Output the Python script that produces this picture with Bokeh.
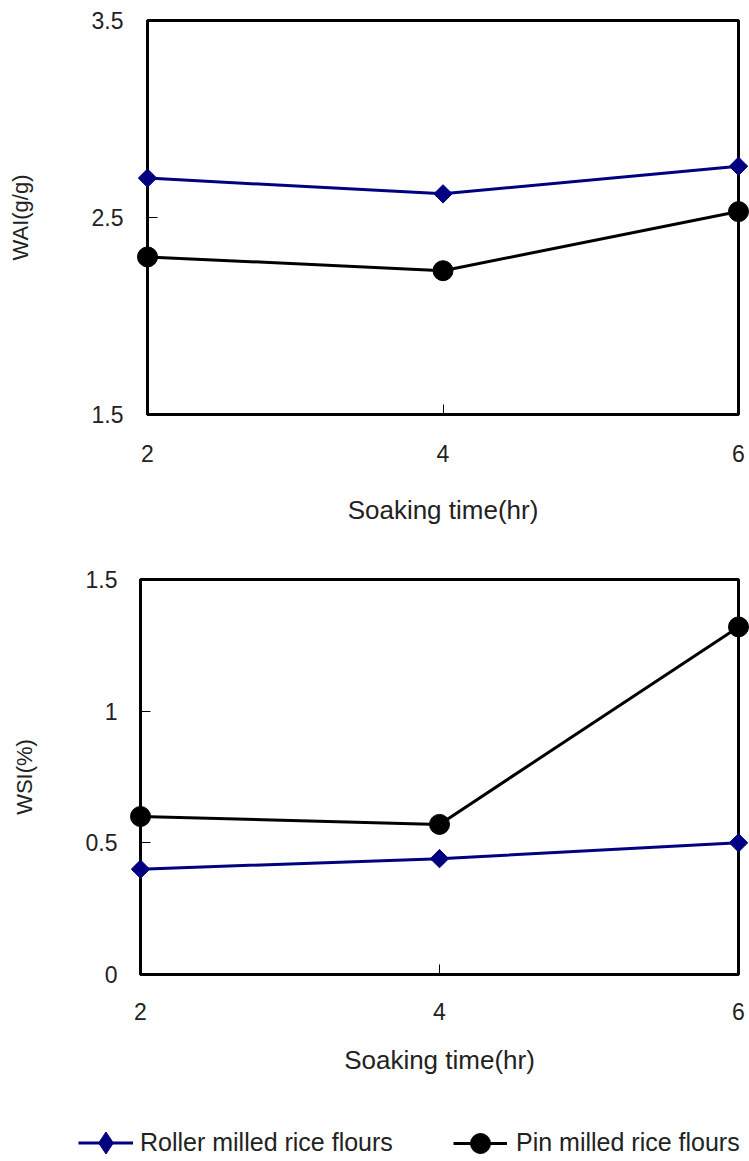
from bokeh.plotting import figure
from bokeh.models import Range1d, FixedTicker, Legend, LegendItem
from bokeh.embed import file_html
from bokeh.resources import INLINE

# ---- data ----
soak_time = [2, 4, 6]
wai_roller = [2.70, 2.62, 2.76]
wai_pin = [2.30, 2.23, 2.53]
wsi_roller = [0.40, 0.44, 0.50]
wsi_pin = [0.60, 0.57, 1.32]

x_ticks = [2, 4, 6]
x_tick_labels = ["2", "4", "6"]
wai_ticks = [1.5, 2.5, 3.5]
wai_tick_labels = ["1.5", "2.5", "3.5"]
wsi_ticks = [0, 0.5, 1, 1.5]
wsi_tick_labels = ["0", "0.5", "1", "1.5"]

series_labels = ["Roller milled rice flours", "Pin milled rice flours"]
x_label = "Soaking time(hr)"
y_labels = ["WAI(g/g)", "WSI(%)"]

FONT = "Liberation Sans"
NAVY = "#000080"
TXT = "#222222"


def make_fig(height, left, top, bottom, y_lo, y_hi, yticks, ytlabels, ylabel,
             ylabel_standoff, ytick_standoff, xtick_standoff, xlabel_standoff):
    p = figure(width=749, height=height, x_range=Range1d(2, 6),
               y_range=Range1d(y_lo, y_hi), output_backend="svg",
               toolbar_location=None, min_border_left=left, min_border_right=11,
               min_border_top=top, min_border_bottom=bottom)
    p.grid.visible = False
    p.outline_line_color = "black"
    p.outline_line_width = 3
    p.outline_line_alpha = 1
    p.xaxis.ticker = FixedTicker(ticks=x_ticks)
    p.xaxis.major_label_overrides = dict(zip(x_ticks, x_tick_labels))
    p.yaxis.ticker = FixedTicker(ticks=yticks)
    p.yaxis.major_label_overrides = dict(zip(yticks, ytlabels))
    for ax in (p.xaxis, p.yaxis):
        ax.axis_line_width = 3
        ax.axis_line_color = "black"
        ax.major_tick_in = 10
        ax.major_tick_out = 0
        ax.major_tick_line_color = "black"
        ax.major_tick_line_width = 1
        ax.minor_tick_line_color = None
        ax.major_label_text_font = FONT
        ax.major_label_text_font_size = "23px"
        ax.major_label_text_color = TXT
        ax.axis_label_text_font = FONT
        ax.axis_label_text_font_style = "normal"
        ax.axis_label_text_color = TXT
    p.xaxis.axis_label = x_label
    p.xaxis.axis_label_text_font_size = "26px"
    p.xaxis.major_label_standoff = xtick_standoff
    p.xaxis.axis_label_standoff = xlabel_standoff
    p.yaxis.axis_label = ylabel
    p.yaxis.axis_label_text_font_size = "22px"
    p.yaxis.major_label_standoff = ytick_standoff
    p.yaxis.axis_label_standoff = ylabel_standoff
    return p


def add_series(p, roller, pin, roller_marker="square", roller_angle=0.785398, roller_size=13):
    lr = p.line(soak_time, roller, line_color=NAVY, line_width=3, level="overlay")
    sr = p.scatter(soak_time, roller, marker=roller_marker, angle=roller_angle,
                   size=roller_size, fill_color=NAVY, line_color=NAVY, level="overlay")
    lp = p.line(soak_time, pin, line_color="black", line_width=3, level="overlay")
    sp = p.scatter(soak_time, pin, marker="circle", size=20,
                   fill_color="black", line_color="black", level="overlay")
    return (lr, sr), (lp, sp)


p1 = make_fig(540, 147, 20, 126, 1.5, 3.5, wai_ticks, wai_tick_labels, y_labels[0],
              56, 24, 30, 30)
add_series(p1, wai_roller, wai_pin)

p2 = make_fig(555, 140, 39, 121, 0, 1.5, wsi_ticks, wsi_tick_labels, y_labels[1],
              46, 23, 28, 22)
add_series(p2, wsi_roller, wsi_pin)

# legend strip: same series, ranges chosen so only the legend is shown
p3 = figure(width=749, height=66, x_range=Range1d(-10, -9), y_range=Range1d(-10, -9),
            output_backend="svg", toolbar_location=None, min_border_left=0,
            min_border_right=0, min_border_top=0, min_border_bottom=0)
p3.axis.visible = False
p3.grid.visible = False
p3.outline_line_color = None
(rr, rs), (pr, ps) = add_series(p3, wsi_roller, wsi_pin, roller_marker="diamond",
                                roller_angle=0, roller_size=22)

leg_common = dict(padding=0, margin=0, border_line_color=None, background_fill_alpha=0,
                  label_text_font=FONT, label_text_font_size="25px",
                  label_text_color=TXT)
leg1 = Legend(items=[LegendItem(label=series_labels[0], renderers=[rr, rs])],
              location=(78, -9), glyph_width=55, glyph_height=55, label_standoff=7,
              **leg_common)
leg2 = Legend(items=[LegendItem(label=series_labels[1], renderers=[pr, ps])],
              location=(453, -6.5), glyph_width=54, glyph_height=50, label_standoff=9,
              **leg_common)
p3.add_layout(leg1, "center")
p3.add_layout(leg2, "center")

open("out.html", "w").write(file_html([p1, p2, p3], INLINE))
